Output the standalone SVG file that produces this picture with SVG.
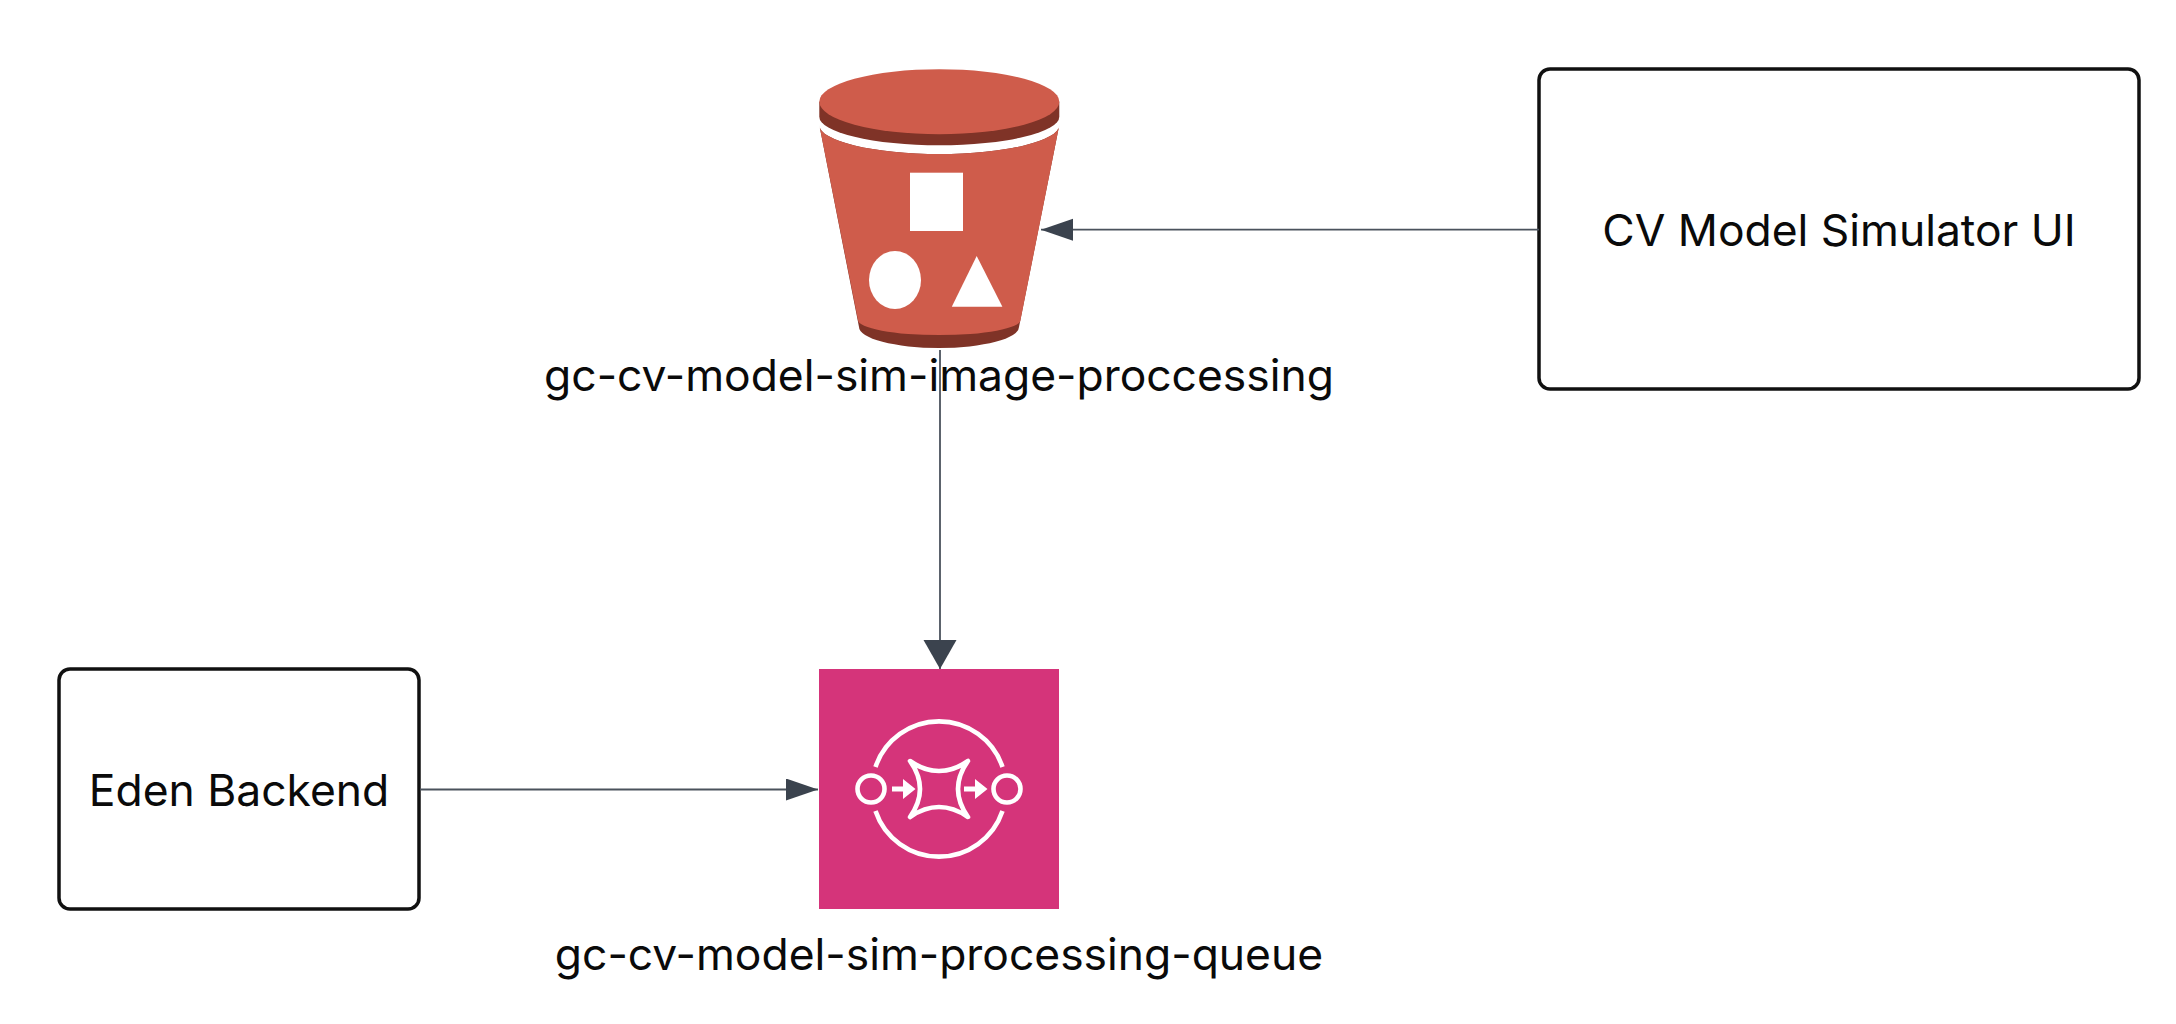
<svg xmlns="http://www.w3.org/2000/svg" width="2176" height="1024" viewBox="0 0 2176 1024">
<defs>
<style>
.box{fill:#fff;stroke:#111;stroke-width:3.5}
.t{font-family:"Inter","Liberation Sans",sans-serif;font-size:44.4px;fill:#0a0a0a;text-anchor:middle}
.c{fill:none;stroke:#4a525c;stroke-width:1.8}
.w{fill:#fff}
.wl{fill:none;stroke:#fff;stroke-width:4.6}
</style>
<marker id="a1" markerUnits="userSpaceOnUse" markerWidth="34" markerHeight="24" refX="32" refY="11" orient="auto"><path d="M0 0L32 11L0 22Z" fill="#3b434e"/></marker>
<marker id="a2" markerUnits="userSpaceOnUse" markerWidth="31" markerHeight="35" refX="29" refY="16.5" orient="auto"><path d="M0 0L29 16.5L0 33Z" fill="#3b434e"/></marker>
</defs>
<rect width="2176" height="1024" fill="#fff"/>
<g id="node-bucket">
<path d="M819.3 101.7V116.7A120 28.5 0 0 0 1059.3 116.7V101.7Z" fill="#7f3327"/>
<path d="M819.3 125L859 327A80 21 0 0 0 1019 327L1059.3 125A120 29 0 0 1 819.3 125Z" fill="#7f3327"/>
<path d="M819.3 125L858 320A81 15 0 0 0 1020.5 320L1059.3 125A120 29 0 0 1 819.3 125Z" fill="#cf5c4b"/>
<ellipse cx="939.3" cy="101.7" rx="120" ry="32.5" fill="#cf5c4b"/>
<rect class="w" x="910" y="172.7" width="53" height="58.3"/>
<ellipse class="w" cx="895" cy="280" rx="26" ry="29"/>
<path class="w" d="M976.7 256L1002.4 306.7H951.8Z"/>
<text class="t" x="939" y="391">gc-cv-model-sim-image-proccessing</text>
</g>
<g id="node-ui">
<rect class="box" x="1539" y="69" width="600" height="320" rx="11"/>
<text class="t" x="1839" y="246">CV Model Simulator UI</text>
</g>
<g id="node-queue">
<rect x="819" y="669" width="240" height="240" fill="#d5347a"/>
<circle class="wl" cx="871" cy="789" r="13.5"/>
<circle class="wl" cx="1007" cy="789" r="13.5"/>
<path class="wl" d="M875.5 767A67 67 0 0 1 1002.5 767M875.5 811A67 67 0 0 0 1002.5 811"/>
<path class="wl" stroke-linejoin="round" d="M910 761Q939 781 968 761Q948 789 968 817Q939 797 910 817Q930 789 910 761Z"/>
<path class="w" d="M892 786.5H903V779L915.5 789L903 799V791.5H892ZM964 786.5H975V779L987.5 789L975 799V791.5H964Z"/>
<text class="t" x="939" y="970">gc-cv-model-sim-processing-queue</text>
</g>
<g id="node-eden">
<rect class="box" x="59" y="669" width="360" height="240" rx="11"/>
<text class="t" x="239" y="806">Eden Backend</text>
</g>
<g id="connectors">
<path class="c" d="M1539 229.7H1041" marker-end="url(#a1)"/>
<path class="c" d="M940 350V669" marker-end="url(#a2)"/>
<path class="c" d="M420 789.5H818" marker-end="url(#a1)"/>
</g>
</svg>
